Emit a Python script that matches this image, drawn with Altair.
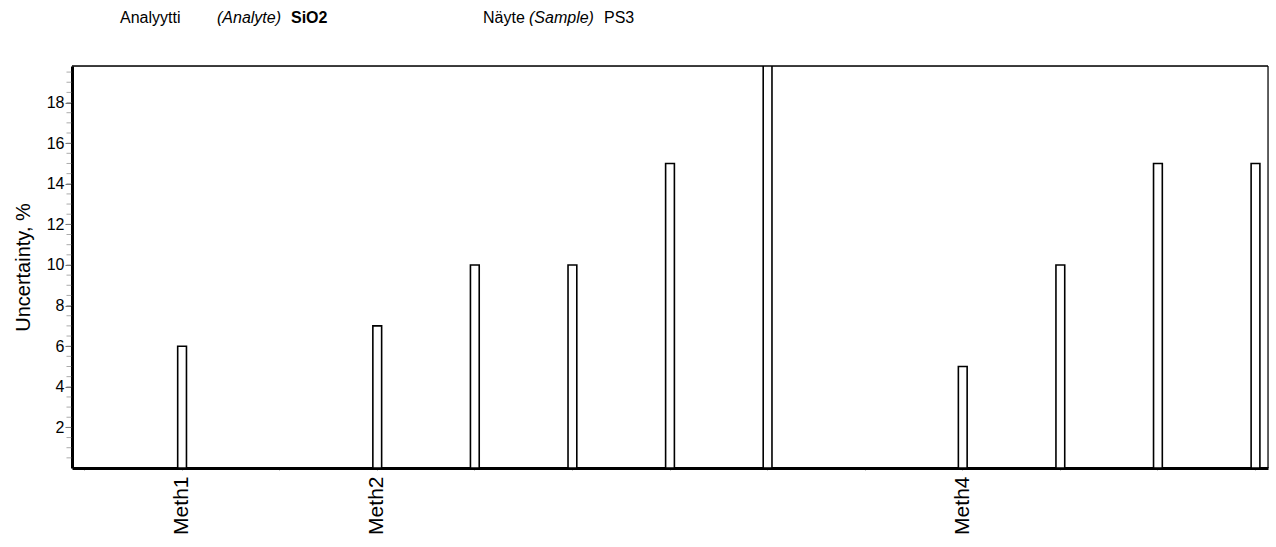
import altair as alt
import pandas as pd

categories = ["c0", "Meth1", "c2", "Meth2", "c4", "c5", "c6", "c7", "c8", "Meth4", "c10", "c11", "c12"]
bar_categories = ["Meth1", "Meth2", "c4", "c5", "c6", "c7", "Meth4", "c10", "c11", "c12"]
uncertainty = [6, 7, 10, 10, 15, 20, 5, 10, 15, 15]
major_ticks = [2, 4, 6, 8, 10, 12, 14, 16, 18]
minor_ticks = [x / 2 for x in range(1, 40)]

df = pd.DataFrame({"cat": bar_categories, "u": uncertainty})

FONT = "Liberation Sans"
W, H = 1196, 402

x_scale = alt.Scale(domain=categories, paddingInner=0.91, paddingOuter=0.083)
y_scale = alt.Scale(domain=[0, 19.8], nice=False, zero=True)

y_axis = alt.Axis(title="Uncertainty, %", titleFont=FONT, titleFontSize=20,
                  titleFontWeight="normal", titleColor="black", titlePadding=13,
                  values=major_ticks, labelFont=FONT, labelFontSize=16,
                  labelColor="black", tickSize=7, tickColor="#777777",
                  tickWidth=1, domainColor="black", domainWidth=3, grid=False,
                  labelPadding=1)

bars = alt.Chart(df).mark_bar(
    fill="white", stroke="black", strokeWidth=1.6, clip=True
).encode(
    x=alt.X("cat:N", scale=x_scale, sort=categories,
            axis=alt.Axis(title=None, labelAngle=-90, labelFont=FONT, labelFontSize=21,
                          labelColor="black", labelAlign="right", labelBaseline="middle",
                          labelPadding=6, tickSize=2, tickColor="#999999", tickWidth=1,
                          domainColor="black", domainWidth=3,
                          labelExpr="indexof(datum.value, 'Meth') == 0 ? datum.value : ''")),
    y=alt.Y("u:Q", scale=y_scale, axis=y_axis),
)

minor = alt.Chart(pd.DataFrame({"v": minor_ticks})).mark_tick(
    color="#888888", thickness=1, size=5
).encode(
    y=alt.Y("v:Q", scale=y_scale, axis=y_axis),
    x=alt.value(-3),
)

frame_top = alt.Chart(pd.DataFrame({"a": [0]})).mark_rule(color="black", strokeWidth=1.5).encode(
    x=alt.value(0), x2=alt.value(W), y=alt.value(0)
)
frame_right = alt.Chart(pd.DataFrame({"a": [0]})).mark_rule(color="black", strokeWidth=1.2).encode(
    x=alt.value(W), y=alt.value(0), y2=alt.value(H)
)

title_parts = pd.DataFrame({
    "text": ["Analyytti", "(Analyte)", "SiO2", "Näyte", "(Sample)", "PS3"],
    "px": [48, 145, 219, 411, 457, 532],
    "style": ["normal", "italic", "bold", "normal", "italic", "normal"],
})

def title_text(row):
    return alt.Chart(pd.DataFrame({"t": [row["text"]]})).mark_text(
        font=FONT, fontSize=16, align="left", baseline="middle", color="black",
        fontStyle="italic" if row["style"] == "italic" else "normal",
        fontWeight="bold" if row["style"] == "bold" else "normal",
    ).encode(text="t:N", x=alt.value(row["px"]), y=alt.value(-48))

titles = [title_text(r) for _, r in title_parts.iterrows()]

chart = alt.layer(minor, bars, frame_top, frame_right, *titles).properties(
    width=W, height=H,
    autosize=alt.AutoSizeParams(type="none"),
    padding={"left": 72, "top": 66, "right": 8, "bottom": 79},
).configure_view(stroke=None).configure(background="white")

chart.save("out.html", embed_options={"renderer": "svg", "actions": False})
